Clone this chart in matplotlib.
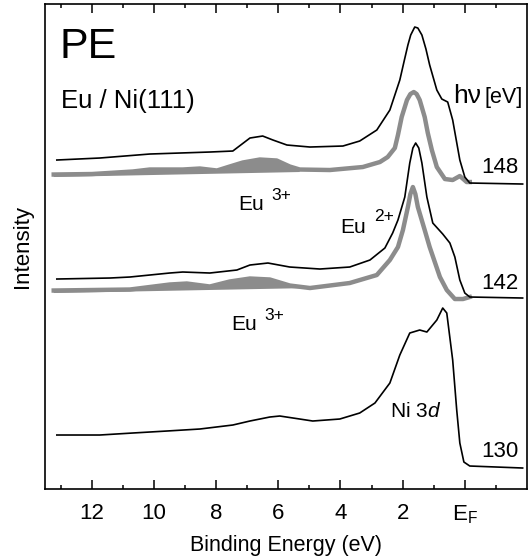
import numpy as np
import matplotlib
matplotlib.use('Agg')
import matplotlib.pyplot as plt

plt.rcParams['font.family'] = ['Liberation Sans', 'DejaVu Sans']
plt.rcParams['mathtext.fontset'] = 'custom'
plt.rcParams['mathtext.rm'] = 'Liberation Sans'
plt.rcParams['mathtext.it'] = 'Liberation Sans:italic'

# binding energy (eV) and intensity (arb. units, offsets included)
be_148 = [13.12, 11.74, 10.13, 8.20, 7.46, 6.91, 6.50, 6.17, 5.72, 4.98, 3.92, 3.38,
          2.83, 2.41, 2.09, 1.95, 1.83, 1.74, 1.61, 1.51, 1.38, 1.25, 1.13, 0.90,
          0.74, 0.55, 0.39, 0.16, 0.00, -0.16, -1.86]
int_148 = [329, 331, 335, 337, 338, 351, 353, 349, 344, 342, 343, 348,
           359, 379, 409, 428, 444, 454, 462, 461, 454, 440, 424, 399,
           390, 387, 369, 329, 312, 306, 305]

be_148_eu = [13.22, 11.99, 10.68, 10.13, 9.07, 8.52, 7.97, 7.56, 7.14, 6.59, 6.05,
             5.63, 5.31, 4.34, 3.28, 2.73, 2.48, 2.25, 2.15, 2.03, 1.86, 1.75,
             1.64, 1.55, 1.45, 1.29, 1.19, 1.06, 0.90, 0.64, 0.39, 0.16, -0.06, -0.16]
int_148_eu = [314.5, 315, 317.5, 319.5, 319.5, 320.5, 318.5, 322.5, 326.5, 329.5, 328.5,
              322.5, 319.5, 319, 322, 327, 332, 341, 354, 372, 389, 395,
              397, 395, 389, 372, 356, 339, 322, 310, 309, 313, 307, 307]
bg_148_be = [13.22, 5.31]
bg_148 = [312, 317]

be_142 = [13.12, 11.41, 10.77, 9.49, 9.07, 8.20, 7.33, 6.91, 6.33, 5.63, 4.66, 3.70,
          3.05, 2.57, 2.32, 2.15, 1.93, 1.77, 1.67, 1.58, 1.48, 1.38, 1.22, 1.03,
          0.71, 0.48, 0.32, 0.16, 0.00, -0.16, -1.86]
int_142 = [210, 211, 212, 216, 217, 216, 219, 224, 226, 222, 220, 222,
           229, 241, 256, 269, 292, 326, 341, 346, 341, 326, 292, 266,
           255, 246, 232, 209, 196, 192, 191]

be_142_eu = [13.22, 10.77, 9.49, 8.94, 8.20, 7.56, 6.91, 6.27, 5.63, 4.98, 3.70,
             2.83, 2.41, 2.15, 1.99, 1.83, 1.75, 1.67, 1.59, 1.51, 1.29, 1.13,
             0.80, 0.58, 0.32, 0.06, -0.16]
int_142_eu = [198.5, 199.5, 204.5, 205.5, 202.5, 207.5, 210.5, 209.5, 203.5, 201, 206,
              214, 229, 242, 259, 282, 295, 302, 295, 282, 259, 242,
              212, 199, 190, 190, 192]
bg_142_be = [13.22, 4.98]
bg_142 = [196, 201]

be_130 = [13.12, 11.74, 10.68, 9.58, 8.52, 7.46, 6.91, 6.27, 5.95, 5.31, 4.89, 4.02,
          3.38, 2.89, 2.41, 2.09, 1.77, 1.45, 1.22, 0.90, 0.71, 0.58, 0.39, 0.26,
          0.16, 0.03, -0.16, -1.86]
int_130 = [54, 54, 56, 58, 60, 64, 68, 72, 73, 70, 68, 70,
           76, 86, 106, 134, 156, 159, 157, 169, 181, 176, 129, 79,
           46, 27, 23, 21]

major_ticks = [12, 10, 8, 6, 4, 2, 0]
major_labels = ['12', '10', '8', '6', '4', '2', r'$\mathregular{E_F}$']
minor_ticks = [13, 11, 9, 7, 5, 3, 1, -1]

black = 'black'
gray = '#8c8c8c'

fig = plt.figure(figsize=(5.32, 5.59), dpi=100)
ax = fig.add_axes([0.0846, 0.1252, 0.906, 0.8676])


def eu_fill(be, inten, bg_be, bg):
    be = np.array(be)
    inten = np.array(inten)
    keep = be >= bg_be[-1]
    xs = np.concatenate([be[keep], bg_be[::-1]])
    ys = np.concatenate([inten[keep], bg[::-1]])
    ax.fill(xs, ys, color=gray, lw=0)


eu_fill(be_148_eu, int_148_eu, bg_148_be, bg_148)
eu_fill(be_142_eu, int_142_eu, bg_142_be, bg_142)

ax.plot(be_148_eu, int_148_eu, color=gray, lw=3.2, solid_joinstyle='round')
ax.plot(be_142_eu, int_142_eu, color=gray, lw=3.2, solid_joinstyle='round')
ax.plot(be_148, int_148, color=black, lw=1.2)
ax.plot(be_142, int_142, color=black, lw=1.2)
ax.plot(be_130, int_130, color=black, lw=1.2)

ax.set_xlim(13.5, -2.0)
ax.set_ylim(0, 485)
ax.set_xticks(major_ticks)
ax.set_xticklabels(major_labels)
ax.set_xticks(minor_ticks, minor=True)
ax.set_yticks([])
ax.tick_params(axis='x', which='both', direction='in', top=True, width=1.1,
               labelsize=16, pad=10)
ax.tick_params(axis='x', which='major', length=6.5)
ax.tick_params(axis='x', which='minor', length=3)
for sp in ax.spines.values():
    sp.set_linewidth(1.2)

ax.set_xlabel('Binding Energy (eV)', fontsize=15.5, labelpad=7)
ax.set_ylabel('Intensity', fontsize=16, labelpad=9)

ax.text(13.05, 431, 'PE', fontsize=31)
ax.text(12.99, 381, 'Eu / Ni(111)', fontsize=18.5)
ax.text(0.39, 386, 'h\u03bd', fontsize=19)
ax.text(-0.63, 386, '[eV]', fontsize=15.5)
ax.text(-1.72, 316, '148', fontsize=16, ha='right')
ax.text(-1.72, 200, '142', fontsize=16, ha='right')
ax.text(-1.72, 32, '130', fontsize=16, ha='right')
ax.text(7.29, 279, 'Eu', fontsize=15)
ax.text(6.22, 289, '3+', fontsize=12.5)
ax.text(7.52, 159, 'Eu', fontsize=15)
ax.text(6.45, 169, '3+', fontsize=12.5)
ax.text(4.0, 256, 'Eu', fontsize=15)
ax.text(2.91, 268, '2+', fontsize=12.5)
ax.text(2.42, 72, r'Ni 3$\mathit{d}$', fontsize=15)

plt.savefig('out.png', dpi=100)
